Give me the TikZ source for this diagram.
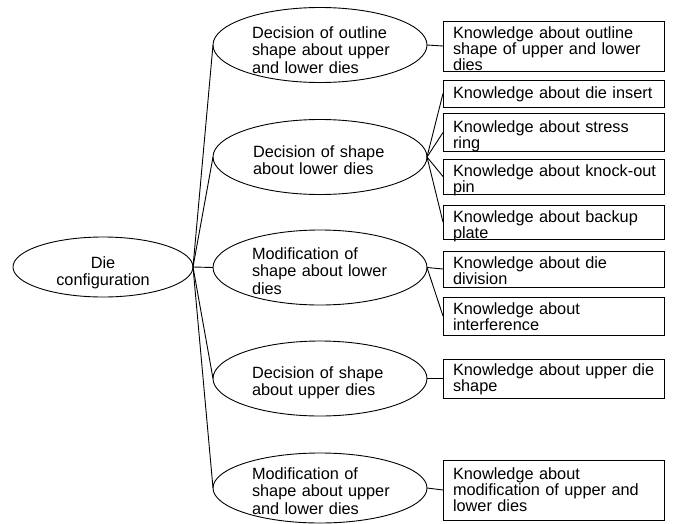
\documentclass[tikz,border=0pt]{standalone}
\usepackage{fontspec}
\setmainfont{Liberation Sans}
\usetikzlibrary{shapes.geometric}
\begin{document}
\begin{tikzpicture}[x=1pt,y=-1pt,
  every node/.style={inner sep=0pt, outer sep=0pt},
  bubble/.style={draw, ellipse, line width=0.9pt, minimum width=214pt, minimum height=75pt},
  rootbubble/.style={draw, ellipse, line width=0.9pt, minimum width=180pt, minimum height=60pt},
  kbox/.style={draw, rectangle, line width=0.9pt, minimum width=221pt, anchor=north west},
  etext/.style={anchor=base west, text width=190pt, align=left, font=\fontsize{16.3}{17.5}\selectfont},
  ktext/.style={anchor=base west, text width=215pt, align=left, font=\fontsize{16.3}{14.5}\selectfont},
  link/.style={line width=0.9pt}]
\useasboundingbox (0,0) rectangle (673,523);

% root
\node[rootbubble] (root) at (103,267) {};
\node[anchor=base, text width=150pt, align=center, font=\fontsize{16.3}{17}\selectfont] (troot) at (103,268) {Die\\configuration};

% decision / modification steps
\node[bubble] (e1) at (320,45) {};
\node[bubble] (e2) at (320,157) {};
\node[bubble] (e3) at (320,267.5) {};
\node[bubble] (e4) at (320,378.5) {};
\node[bubble, minimum height=70pt] (e5) at (320,488) {};

\node[etext] (te1) at (252,38) {Decision of outline\\shape about upper\\and lower dies};
\node[etext] (te2) at (253,157) {Decision of shape\\about lower dies};
\node[etext] (te3) at (252,259) {Modification of\\shape about lower\\dies};
\node[etext] (te4) at (252,378) {Decision of shape\\about upper dies};
\node[etext] (te5) at (252,479) {Modification of\\shape about upper\\and lower dies};

% knowledge boxes
\node[kbox, minimum height=50pt] (b1) at (443,21) {};
\node[kbox, minimum height=27pt] (b2) at (443,80) {};
\node[kbox, minimum height=38pt] (b3) at (443,113.5) {};
\node[kbox, minimum height=35pt] (b4) at (443,159) {};
\node[kbox, minimum height=34pt] (b5) at (443,205) {};
\node[kbox, minimum height=36pt] (b6) at (443,251) {};
\node[kbox, minimum height=38pt] (b7) at (443,297) {};
\node[kbox, minimum height=39pt] (b8) at (443,359) {};
\node[kbox, minimum height=60pt] (b9) at (443,460) {};

\node[ktext] (tb1) at (453,38) {Knowledge about outline\\shape of upper and lower\\dies};
\node[ktext] (tb2) at (453,98) {Knowledge about die insert};
\node[ktext] (tb3) at (453,132) {Knowledge about stress\\ring};
\node[ktext] (tb4) at (453,176.5) {Knowledge about knock-out\\pin};
\node[ktext] (tb5) at (453,222) {Knowledge about backup\\plate};
\node[ktext] (tb6) at (453,268.5) {Knowledge about die\\division};
\node[ktext] (tb7) at (453,314.5) {Knowledge about\\interference};
\node[ktext] (tb8) at (453,375.5) {Knowledge about upper die\\shape};
\node[ktext] (tb9) at (453,479.5) {Knowledge about\\modification of upper and\\lower dies};

% connectors
\foreach \e in {e1,e2,e3,e4,e5}
  \draw[link] (root.east) -- (\e.west);
\draw[link] (e1.east) -- (b1.west);
\foreach \b in {b2,b3,b4,b5}
  \draw[link] (e2.east) -- (\b.west);
\draw[link] (e3.east) -- (b6.west);
\draw[link] (e3.east) -- (b7.west);
\draw[link] (e4.east) -- (b8.west);
\draw[link] (e5.east) -- (b9.west);
\end{tikzpicture}
\end{document}
